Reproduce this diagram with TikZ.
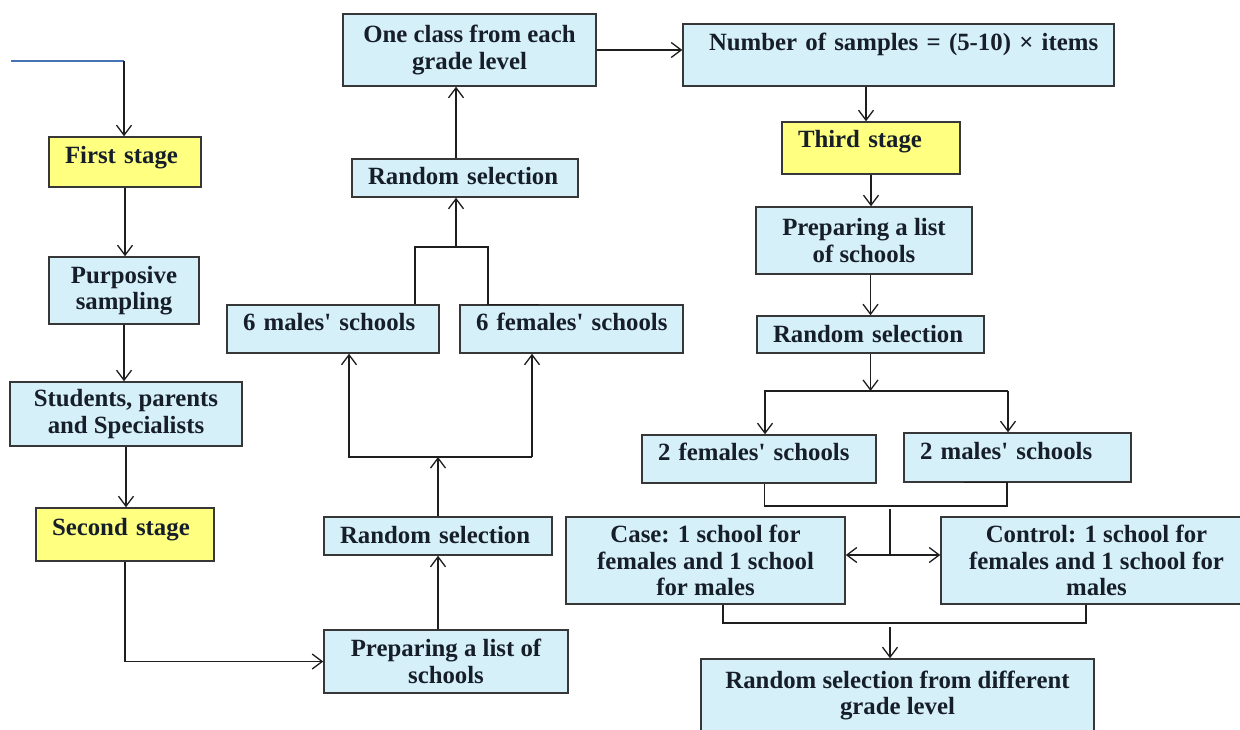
\documentclass[tikz,border=0pt]{standalone}
\usepackage{fontspec}
\setmainfont{Liberation Serif}
\usetikzlibrary{arrows.meta}

\definecolor{boxblue}{RGB}{214,240,250}
\definecolor{stageyellow}{RGB}{255,255,128}
\definecolor{inblue}{RGB}{70,115,180}
\definecolor{txtdark}{RGB}{22,30,42}
\definecolor{edgegray}{RGB}{55,55,55}
\definecolor{linedark}{RGB}{30,30,30}

\begin{document}
\begin{tikzpicture}[x=1pt,y=-1pt,>={Straight Barb[length=10pt,width=15pt]},line width=1.3pt,draw=linedark,
	bluebox/.style={draw=edgegray,line width=1.5pt,fill=boxblue,inner sep=1pt,align=center,text=txtdark,
		font=\bfseries\fontsize{24.8}{26.5}\selectfont},
	stagebox/.style={bluebox,fill=stageyellow},
	oneline/.style 2 args={align=left,inner xsep=16pt,text width=#1,text height=17pt,text depth=#2,
		execute at begin node={\hbox\bgroup},execute at end node={\egroup}}]
	\path[use as bounding box,fill=white] (0,0) rectangle (1240,730);

	% First and second stage
	\node[stagebox,oneline={120pt}{14.4pt},minimum height=50] (first) at (125,162) {First stage};
	\node[bluebox,minimum width=150,minimum height=67] (purp) at (124,290.5) {Purposive\\sampling};
	\node[bluebox,minimum width=232,minimum height=64] (stud) at (126,414) {Students, parents\\and Specialists};
	\node[stagebox,oneline={146pt}{16pt},minimum height=53] (second) at (125,534.5) {Second stage};
	\node[bluebox,minimum width=244,minimum height=63] (prepL) at (446,661.5) {Preparing a list of\\schools};
	\node[bluebox,oneline={196pt}{2pt},minimum height=38] (randL) at (438,536) {Random selection};
	\node[bluebox,oneline={180pt}{15pt},minimum height=48] (sixm) at (333,329) {6 males\textquotesingle{} schools};
	\node[bluebox,oneline={191pt}{15pt},minimum height=48] (sixf) at (571.5,329) {6 females\textquotesingle{} schools};
	\node[bluebox,oneline={194pt}{4.4pt},minimum height=38] (randU) at (465,178) {Random selection};
	\node[bluebox,minimum width=253,minimum height=72] (oneclass) at (469.5,50) {One class from each\\grade level};

	% Third stage
	\node[bluebox,oneline={379pt}{25.6pt},inner xsep=26pt,minimum height=62] (number) at (898.5,55) {Number of samples = (5-10) × items};
	\node[stagebox,oneline={146pt}{18.4pt},minimum height=52] (third) at (871,148) {Third stage};
	\node[bluebox,minimum width=216,minimum height=67] (prepR) at (864,240.5) {Preparing a list\\of schools};
	\node[bluebox,oneline={195pt}{1pt},minimum height=37] (randR) at (870.5,334.5) {Random selection};
	\node[bluebox,oneline={202pt}{13.6pt},minimum height=48] (fem2) at (759,459) {2 females\textquotesingle{} schools};
	\node[bluebox,oneline={195pt}{13.4pt},minimum height=49] (mal2) at (1017.5,457.5) {2 males\textquotesingle{} schools};
	\node[bluebox,minimum width=279,minimum height=87] (caseb) at (705.5,560.5) {Case: 1 school for\\females and 1 school\\for males};
	\node[bluebox,minimum width=311,minimum height=87] (ctrl) at (1096.5,560.5) {Control: 1 school for\\females and 1 school for\\males};
	\node[bluebox,minimum width=393,minimum height=73] (final) at (897.5,695.5) {Random selection from different\\grade level};

	% Left column arrows
	\coordinate (start) at (11,61);
	\coordinate (startbend) at (124,61);
	\draw[inblue] (start) -- (startbend);
	\draw[->] (startbend) -- (startbend |- first.north);
	\foreach \a/\b in {first/purp,purp/stud,stud/second}
		\draw[->] (\a.south) -- (\a.south |- \b.north);
	\draw[->] (second.south) |- (prepL.west);

	% Middle column arrows
	\draw[->] (randL.south |- prepL.north) -- (randL.south);
	\coordinate (splitL) at (349,457);
	\coordinate (splitR) at (532,457);
	\draw[->] (randL.north) -- (randL.north |- splitL);
	\draw[->] (splitR) -- (splitL) -- (splitL |- sixm.south);
	\draw[->] (splitR) -- (splitR |- sixf.south);
	\coordinate (joinL) at (415,247);
	\coordinate (joinR) at (488,247);
	\coordinate (joinM) at (456,247);
	\draw (joinL |- sixm.north) -- (joinL) -- (joinR) -- (joinR |- sixf.north) -- ++(51,0);
	\draw[->] (joinM) -- (joinM |- randU.south);
	\draw[->] (joinM |- randU.north) -- (joinM |- oneclass.south);
	\draw[->] (oneclass.east) -- (oneclass.east -| number.west);

	% Right column arrows
	\draw[->] ([xshift=-5pt]third.north |- number.south) -- ([xshift=-5pt]third.north);
	\draw[->] (third.south) -- (third.south |- prepR.north);
	\draw[->] (prepR.south -| randR.north) -- (randR.north);
	\coordinate (split2L) at (765,391);
	\coordinate (split2R) at (1008,391);
	\draw[->] (randR.south) -- (randR.south |- split2L);
	\draw[->] (split2R) -- (split2L) -- (split2L |- fem2.north);
	\draw[->] (split2R) -- (split2R |- mal2.north);
	\coordinate (join2L) at (764.5,506);
	\coordinate (join2R) at (1007,506);
	\draw (join2L |- fem2.south) -- (join2L) -- (join2R) -- (join2R |- mal2.south) -- ++(-43,0);
	\coordinate (join2M) at (890,509);
	\coordinate (fork) at (890,555);
	\draw (join2M) -- (fork);
	\draw[->] (fork) -- (fork -| caseb.east);
	\draw[->] (fork) -- (fork -| ctrl.west);
	\coordinate (join3L) at (723,623);
	\coordinate (join3R) at (1086,623);
	\draw (join3L |- caseb.south) -- (join3L) -- (join3R) -- (join3R |- ctrl.south);
	\coordinate (join3M) at (890,627);
	\draw[->] (join3M) -- (join3M |- final.north);
\end{tikzpicture}
\end{document}
